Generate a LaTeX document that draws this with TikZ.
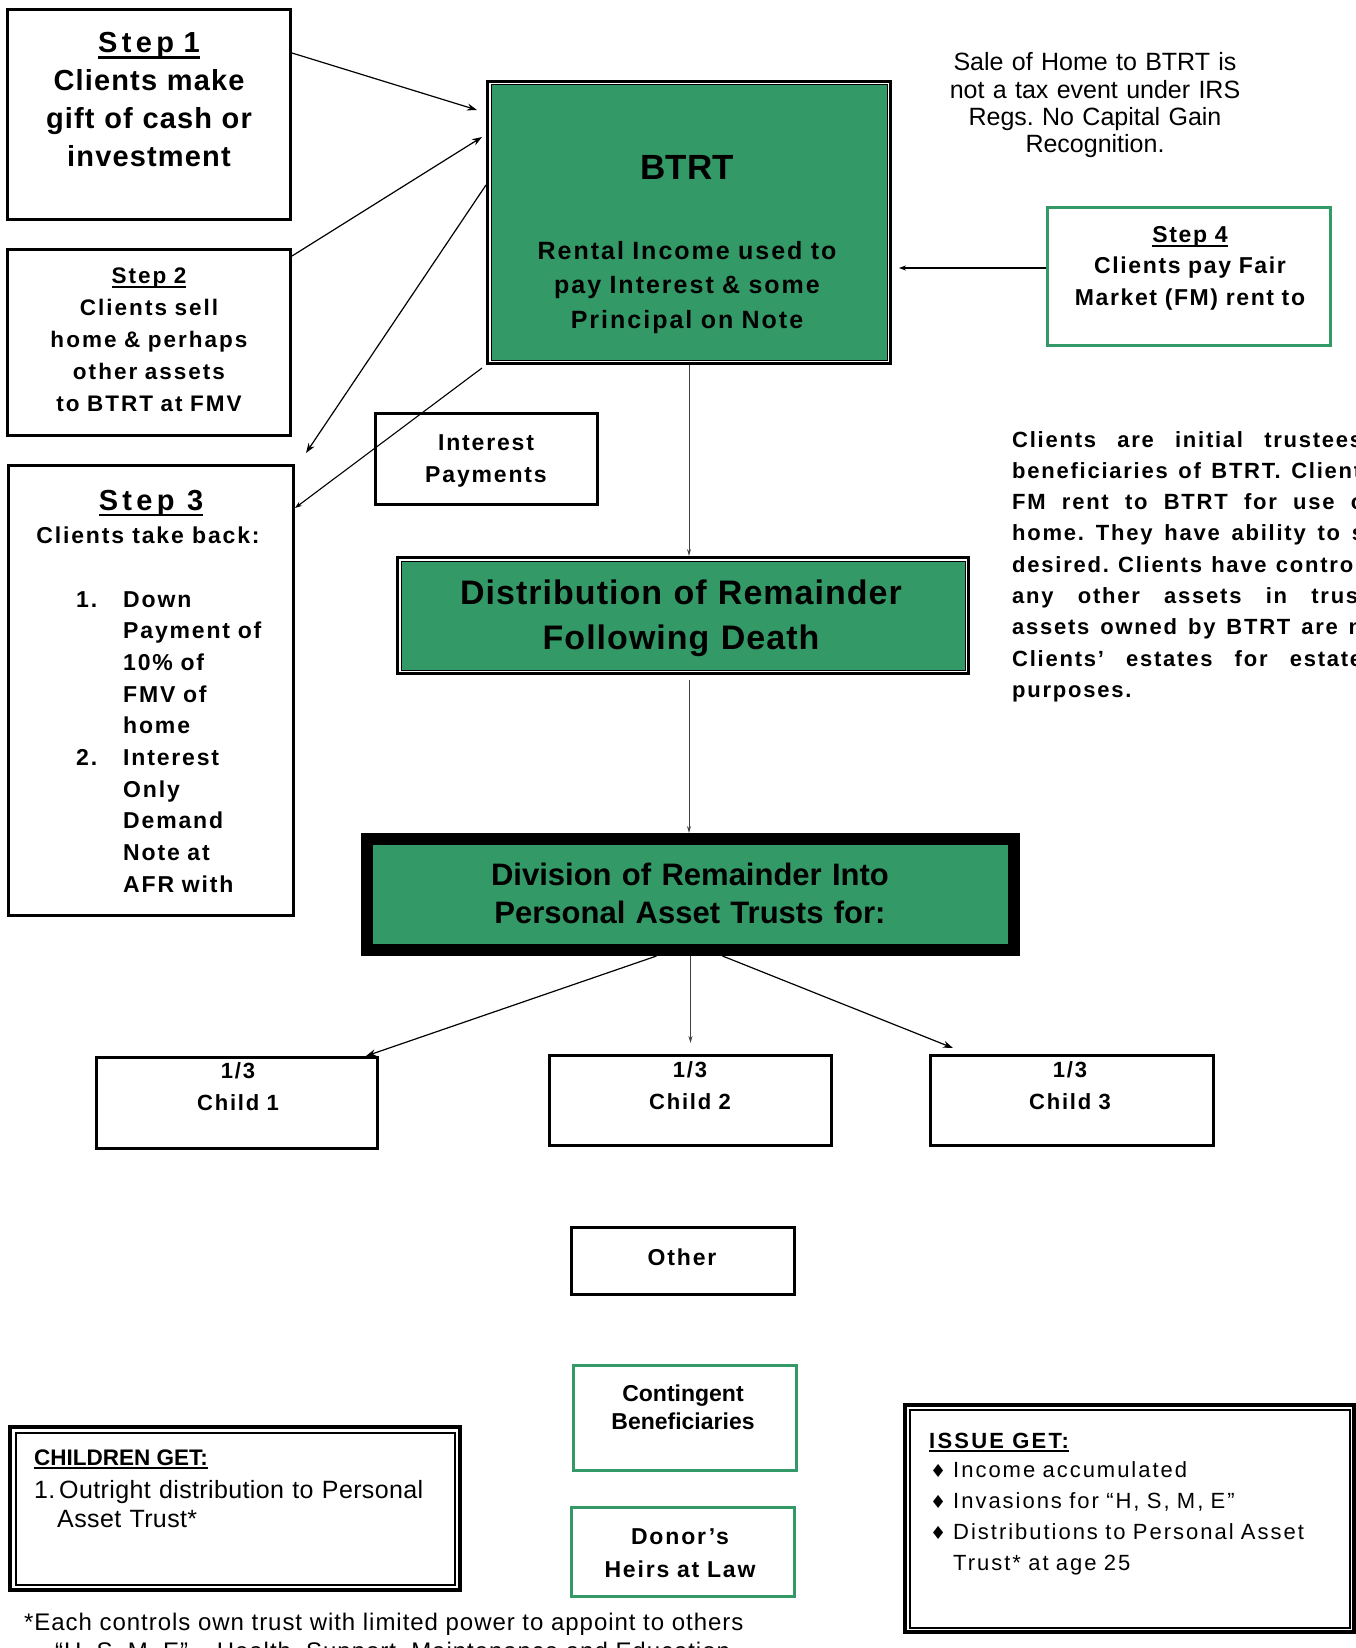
\documentclass[tikz,border=0pt]{standalone}
\usepackage{fontspec}
\setmainfont{Liberation Sans}
\newfontfamily\dejavu{DejaVu Sans}
\usetikzlibrary{arrows.meta,calc}
\definecolor{tgreen}{RGB}{51,153,102}
\newcommand\ulbox[3]{\setbox0\hbox{#3}\rlap{\rule[-#1]{\wd0}{#2}}\box0}
\newcommand\fsz[2]{\fontsize{#1}{#2}\selectfont}
\newcommand\lsp[1]{\addfontfeatures{LetterSpace=#1}}
\newcommand\widesp{\spaceskip=4pt plus 200pt minus 3pt\relax}
\frenchspacing
\tikzset{
  box/.style={draw, line width=3pt, inner sep=0pt, rectangle},
  gbox/.style={box, draw=tgreen},
  txt/.style={inner sep=0pt, anchor=base, align=center},
  arr/.style={-{Stealth[length=10pt,width=7pt]}, line width=1.2pt},
  sarr/.style={-{Stealth[length=7pt,width=5pt]}, line width=1.1pt},
  varr/.style={-{Stealth[length=7pt,width=4pt]}, line width=1pt, draw=black!75},
}
\begin{document}
\begin{tikzpicture}[x=1pt,y=-1pt]
\useasboundingbox (0,0) rectangle (1356,1648);
\clip (0,0) rectangle (1356,1648);

% ---------- boxes ----------
\node[box, minimum width=283pt, minimum height=210pt] (step1) at (149,114.5) {};
\node[box, minimum width=283pt, minimum height=186pt] (step2) at (149,342.5) {};
\node[box, minimum width=285pt, minimum height=450pt] (step3) at (151,690.5) {};
\node[box, minimum width=403pt, minimum height=282pt] (btrt) at (689,222.5) {};
\node[gbox, minimum width=283pt, minimum height=138pt] (step4) at (1189,276.5) {};
\node[box, minimum width=222pt, minimum height=91pt] (intp) at (486.5,459) {};
\node[box, minimum width=571pt, minimum height=116pt] (dist) at (683,615.5) {};
\node[draw, line width=12pt, fill=tgreen, inner sep=0pt, minimum width=647pt, minimum height=111pt] (div) at (690.5,894.5) {};
\node[box, minimum width=281pt, minimum height=91pt] (c1) at (237,1103) {};
\node[box, minimum width=282pt, minimum height=90pt] (c2) at (690.5,1100.5) {};
\node[box, minimum width=283pt, minimum height=90pt] (c3) at (1072,1100.5) {};
\node[box, minimum width=223pt, minimum height=67pt] (other) at (683,1261) {};
\node[gbox, minimum width=223pt, minimum height=105pt] (cont) at (685,1418) {};
\node[gbox, minimum width=223pt, minimum height=89pt] (donor) at (683,1552) {};
\node[box, line width=4pt, minimum width=450pt, minimum height=163pt] (cget) at (235,1508.5) {};
\node[box, line width=4pt, minimum width=449pt, minimum height=227pt] (iget) at (1129.5,1518.5) {};

% inner lines of double frames
\draw[line width=1pt, fill=tgreen] ([shift={(5,5)}]btrt.north west) rectangle ([shift={(-5,-5)}]btrt.south east);
\draw[line width=1pt, fill=tgreen] ([shift={(5,5)}]dist.north west) rectangle ([shift={(-5,-5)}]dist.south east);
\draw[line width=2pt] ([shift={(7.5,7.5)}]cget.north west) rectangle ([shift={(-7.5,-7.5)}]cget.south east);
\draw[line width=2pt] ([shift={(6.5,6.5)}]iget.north west) rectangle ([shift={(-6.5,-6.5)}]iget.south east);

% ---------- connectors ----------
\coordinate (s3tip) at (306,453);
\draw[arr] ([yshift=-45pt]step1.north east) -- ([xshift=-9pt,yshift=-30pt]btrt.north west);
\draw[arr] ([yshift=-8pt]step2.north east) -- ([xshift=-4pt,yshift=-57pt]btrt.north west);
\draw[arr] ([yshift=-105pt]btrt.north west) -- (s3tip);
\draw[sarr] ([xshift=-4pt,yshift=-3pt]btrt.south west) -- ([yshift=-44pt]step3.north east);
\draw[sarr] ([yshift=8.5pt]step4.west) -- ($(btrt.east |- step4.west)+(7,-8.5)$);
\draw[varr] (btrt.south) -- (btrt.south |- dist.north);
\draw[varr] ($(btrt.south |- dist.south)+(0,5)$) -- (btrt.south |- div.north);
\draw[arr] ([xshift=-34pt]div.south) -- ([xshift=-13pt]c1.north east);
\draw[varr] (div.south) -- ([yshift=11pt]c2.north);
\draw[arr] ([xshift=32pt]div.south) -- ([xshift=24pt,yshift=6pt]c3.north west);

% ---------- texts ----------
\node[txt, text width=280pt, font=\fsz{29}{38}\bfseries\lsp{4}] (t1) at (149,53)
  {\ulbox{6pt}{2.5pt}{\lsp{15}Step 1}\\Clients make\\gift of cash or\\investment};
\node[txt, text width=280pt, font=\fsz{22.5}{32}\bfseries\lsp{9}] (t2) at (149,283)
  {\ulbox{5pt}{2pt}{Step 2}\\Clients sell\\home \& perhaps\\other assets\\to BTRT at FMV};
\node[txt, font=\fsz{29}{38}\bfseries\lsp{15}] (t3a) at (151,510) {\ulbox{6pt}{2.5pt}{Step 3}};
\node[txt, font=\fsz{23}{32}\bfseries\lsp{8}] (t3b) at (148,543) {Clients take back:};
\node[txt, anchor=base west, align=left, text width=210pt, font=\fsz{23}{31.7}\bfseries\lsp{8}] (t3c) at (76,607)
  {\makebox[47pt][l]{1.}Down\\\hspace*{47pt}Payment of\\\hspace*{47pt}10\% of\\\hspace*{47pt}FMV of\\\hspace*{47pt}home\\
   \makebox[47pt][l]{2.}Interest\\\hspace*{47pt}Only\\\hspace*{47pt}Demand\\\hspace*{47pt}Note at\\\hspace*{47pt}AFR with};

\node[txt, font=\fsz{35}{40}\bfseries] (tb1) at (687,179) {BTRT};
\node[txt, text width=390pt, font=\fsz{25}{34.5}\bfseries\lsp{8}] (tb2) at (687,259)
  {Rental Income used to\\pay Interest \& some\\Principal on Note};

\node[txt, text width=320pt, font=\fsz{25}{27.3}] (sale) at (1095,71)
  {Sale of Home to BTRT is\\not a tax event under IRS\\Regs. No Capital Gain\\Recognition.};

\node[txt, text width=280pt, font=\fsz{23}{31.5}\bfseries\lsp{7}] (t4) at (1190,242)
  {\ulbox{5pt}{2pt}{Step 4}\\Clients pay Fair\\Market (FM) rent to};

\node[txt, anchor=base west, align=left, text width=360pt,
      font=\fsz{22}{31.3}\bfseries\lsp{8}] (note) at (1012,447)
  {\widesp
   \makebox[350pt][s]{Clients are initial trustees}\\
   \makebox[349pt][s]{beneficiaries of BTRT. Client}\\
   \makebox[352pt][s]{FM rent to BTRT for use o}\\
   \makebox[352pt][s]{home. They have ability to s}\\
   \makebox[341pt][s]{desired. Clients have contro}\\
   \makebox[346pt][s]{any other assets in trus}\\
   \makebox[350pt][s]{assets owned by BTRT are n}\\
   \makebox[350pt][s]{Clients’ estates for estate}\\
   purposes.};

\node[txt, text width=200pt, font=\fsz{23}{32}\bfseries\lsp{8}] (ti) at (486,450) {Interest\\Payments};
\node[txt, text width=560pt, font=\fsz{34}{45}\bfseries\lsp{3}] (td) at (681,604) {Distribution of Remainder\\Following Death};
\node[txt, text width=620pt, font=\fsz{31}{38}\bfseries] (tdv) at (690,885) {Division of Remainder Into\\Personal Asset Trusts for:};

\node[txt, text width=260pt, font=\fsz{22}{32}\bfseries\lsp{8}] (tc1) at (238,1078) {1/3\\Child 1};
\node[txt, text width=260pt, font=\fsz{22}{32}\bfseries\lsp{8}] (tc2) at (690,1077) {1/3\\Child 2};
\node[txt, text width=260pt, font=\fsz{22}{32}\bfseries\lsp{8}] (tc3) at (1070,1077) {1/3\\Child 3};

\node[txt, font=\fsz{23}{32}\bfseries\lsp{8}] (to) at (682,1265) {Other};
\node[txt, text width=210pt, font=\fsz{23}{28}\bfseries] (tcb) at (683,1401) {Contingent\\Beneficiaries};
\node[txt, text width=210pt, font=\fsz{23}{33}\bfseries\lsp{8}] (tdh) at (680,1544) {Donor’s\\Heirs at Law};

\node[txt, anchor=base west, font=\fsz{22.5}{30}\bfseries] (tcg) at (34,1465) {\ulbox{4pt}{2pt}{CHILDREN GET:}};
\node[txt, anchor=base west, align=left, text width=420pt, font=\fsz{25}{29}\lsp{1.5}] (tcg2) at (34,1498)
  {\makebox[25pt][l]{1.}Outright distribution to Personal\\\hspace*{23pt}Asset Trust*};

\node[txt, anchor=base west, font=\fsz{22}{30}\bfseries\lsp{10}] (tig) at (929,1448) {\ulbox{4pt}{2pt}{ISSUE GET:}};
\node[txt, anchor=base west, align=left, text width=420pt, font=\fsz{22}{31}\lsp{9}] (tig2) at (930,1477)
  {\makebox[23pt][l]{\dejavu\fsz{18}{20}♦}Income accumulated\\
   \makebox[23pt][l]{\dejavu\fsz{18}{20}♦}Invasions for “H, S, M, E”\\
   \makebox[23pt][l]{\dejavu\fsz{18}{20}♦}Distributions to Personal Asset\\
   \hspace*{23pt}Trust* at age 25};

\node[txt, anchor=base west, font=\fsz{24}{30}\lsp{4}] (fn1) at (24,1630) {*Each controls own trust with limited power to appoint to others};
\node[txt, anchor=base west, font=\fsz{24}{30}\lsp{4}] (fn2) at (55,1659) {“H, S, M, E” – Health, Support, Maintenance and Education};
\end{tikzpicture}
\end{document}
